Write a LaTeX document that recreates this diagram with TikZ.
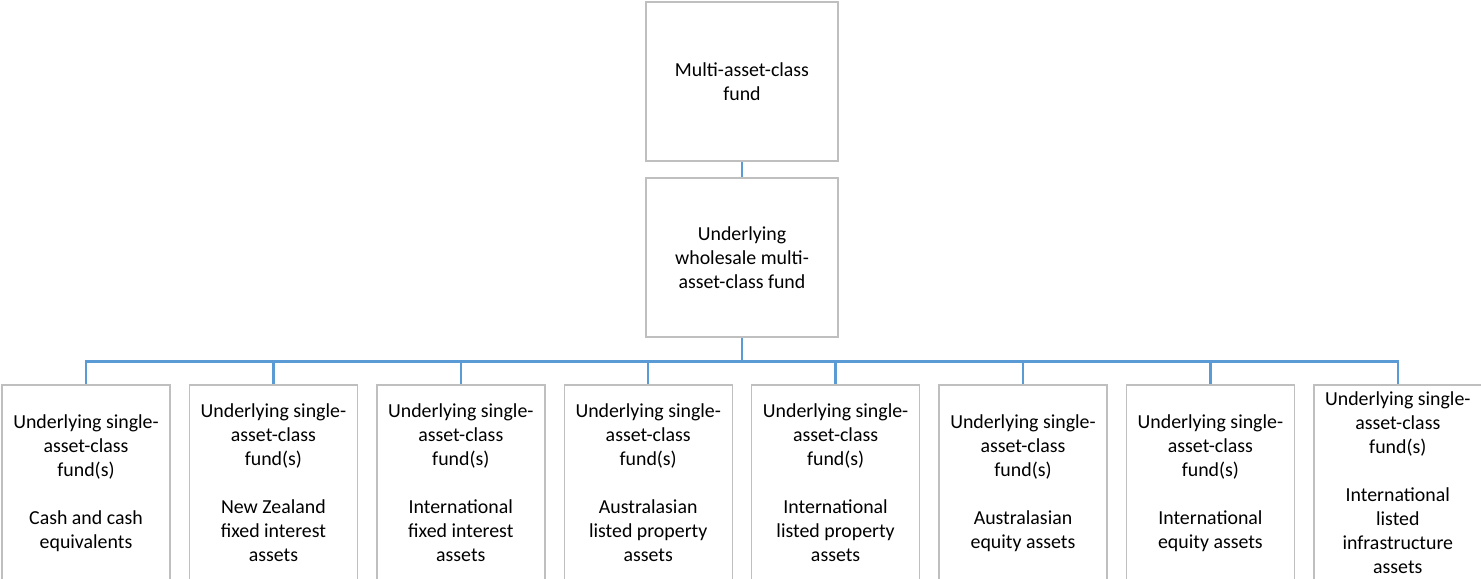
\documentclass[tikz,border=0pt]{standalone}
\usepackage{fontspec}
\setmainfont{Carlito}
\usepackage{tikz}
\usetikzlibrary{positioning}
\definecolor{boxgray}{RGB}{191,191,191}
\definecolor{linkblue}{RGB}{91,155,213}
\tikzset{
	fundbox/.style={draw=boxgray, line width=0.8pt, align=center, inner sep=2pt,
		font=\fontsize{11.3}{13.66}\selectfont},
	topbox/.style={fundbox, minimum width=3.84cm, minimum height=3.18cm},
	leafbox/.style={fundbox, minimum width=3.36cm, minimum height=3.92cm},
	link/.style={draw=linkblue, line width=1.4pt}
}

\begin{document}
\begin{tikzpicture}
			% Frame
			\useasboundingbox (0,0) rectangle (29.62,11.58);
			\clip (0,0) rectangle (29.62,11.58);
			
			% Funds
			\node[topbox] (multi) at (14.84,9.95) {Multi-asset-class\\fund};
			\node[topbox] (whole) at (14.84,6.43) {Underlying\\wholesale multi-\\asset-class fund};
			
			% Single-asset-class funds
			\node[leafbox] (c1) at (1.72,1.92) {Underlying single-\\asset-class\\fund(s)\\[13.66pt]Cash and cash\\equivalents};
			\node[leafbox] (c2) at (5.468,1.92) {Underlying single-\\asset-class\\fund(s)\\[13.66pt]New Zealand\\fixed interest\\assets};
			\node[leafbox] (c3) at (9.216,1.92) {Underlying single-\\asset-class\\fund(s)\\[13.66pt]International\\fixed interest\\assets};
			\node[leafbox] (c4) at (12.964,1.92) {Underlying single-\\asset-class\\fund(s)\\[13.66pt]Australasian\\listed property\\assets};
			\node[leafbox] (c5) at (16.712,1.92) {Underlying single-\\asset-class\\fund(s)\\[13.66pt]International\\listed property\\assets};
			\node[leafbox] (c6) at (20.46,1.92) {Underlying single-\\asset-class\\fund(s)\\[13.66pt]Australasian\\equity assets};
			\node[leafbox] (c7) at (24.208,1.92) {Underlying single-\\asset-class\\fund(s)\\[13.66pt]International\\equity assets};
			\node[leafbox] (c8) at (27.956,1.92) {Underlying single-\\asset-class\\fund(s)\\[13.66pt]International\\listed\\infrastructure\\assets};
			
			% Connectors
			\coordinate (bus) at (14.84,4.35);
			\draw[link] (multi) -- (whole);
			\draw[link] (whole) -- (bus);
			\foreach \i in {1,...,8}
				\draw[link] (bus) -| (c\i.north);
		\end{tikzpicture}
\end{document}
